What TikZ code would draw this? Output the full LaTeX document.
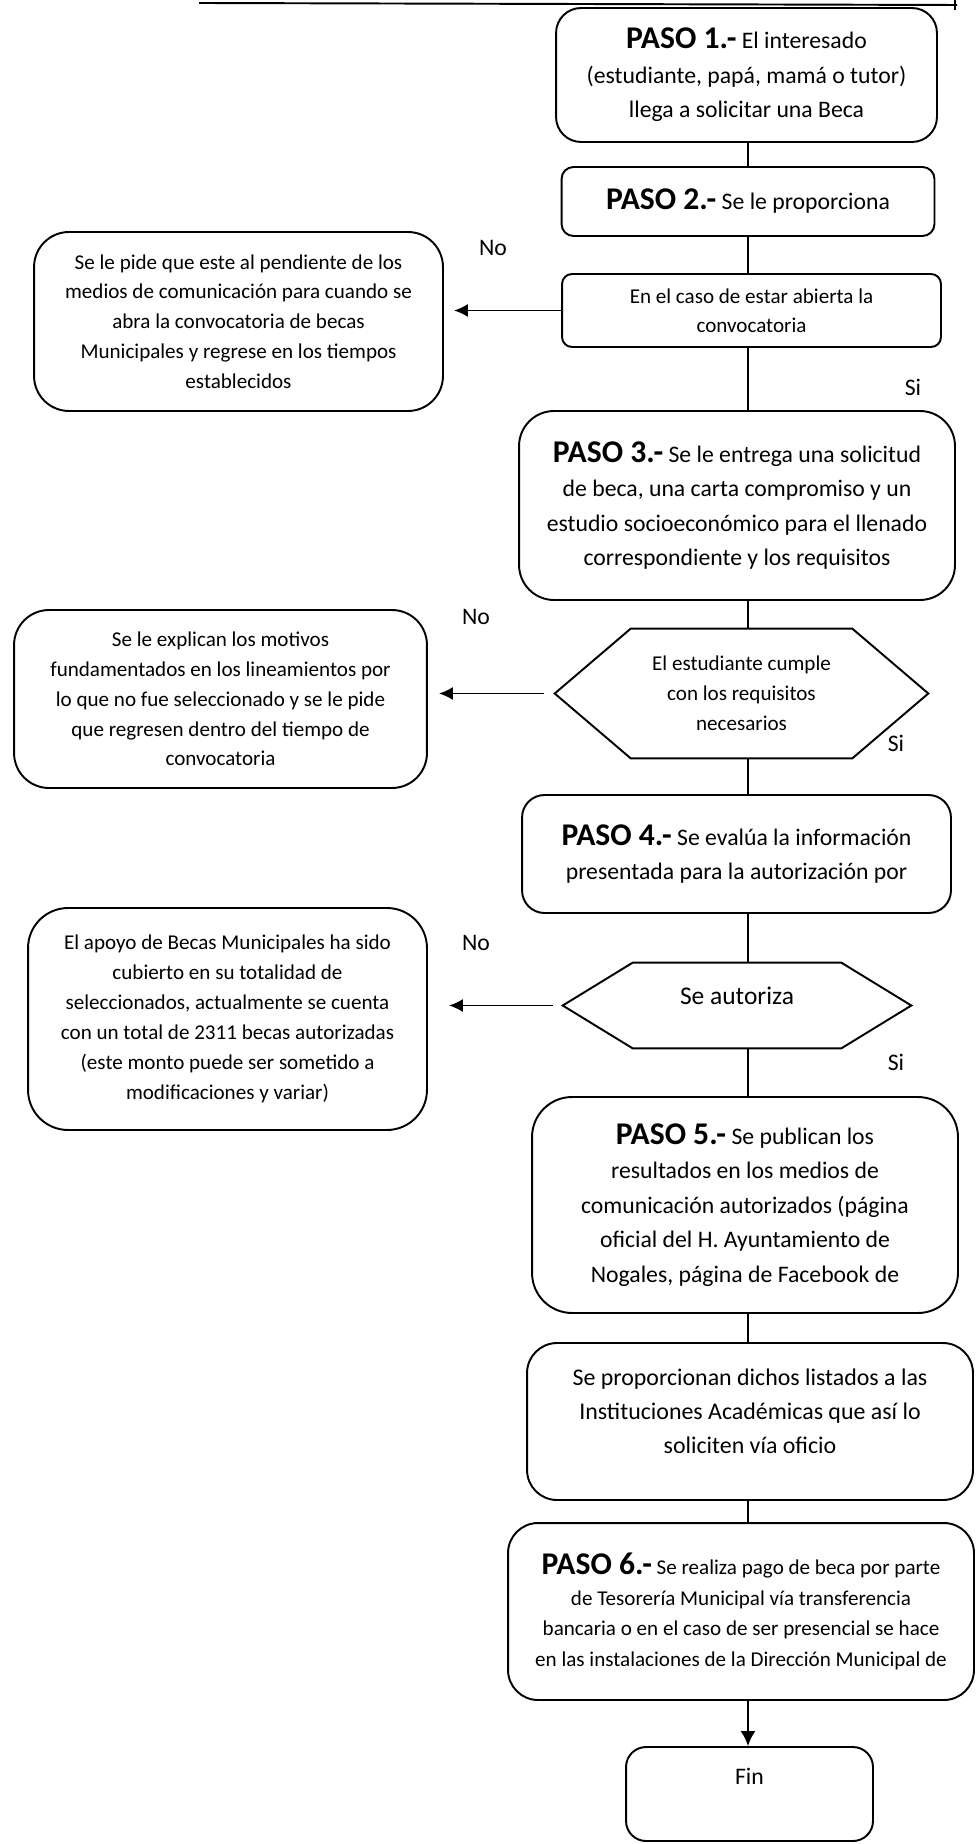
\documentclass[tikz,border=0pt]{standalone}
\usepackage{fontspec}
\setmainfont{Carlito}
\usetikzlibrary{arrows.meta}
\newcommand{\Paso}[1]{{\fontsize{18}{20}\selectfont\bfseries PASO #1.-}}

\begin{document}
\begin{tikzpicture}[
  x=0.02cm, y=-0.02cm,
  stepbox/.style={draw, line width=1.1pt, align=center, inner sep=2pt, font=\fontsize{13.5}{19.7}\selectfont},
  sidebox/.style={draw, line width=1.1pt, align=center, inner sep=2pt, rounded corners=0.7cm, font=\fontsize{12}{17}\selectfont},
  choice/.style={align=center, inner sep=0pt, font=\fontsize{12}{17}\selectfont},
  tag/.style={font=\fontsize{13.5}{15}\selectfont},
  link/.style={line width=0.9pt},
  arrow/.style={->, line width=1.1pt, >={Latex[length=8pt,width=7.5pt]}}
]
\useasboundingbox (0,0) rectangle (975,1844);

% Edge of the frame above
\draw[line width=1.1pt] (199,3) -- (957,5);
\draw[line width=0.8pt] (955,0) -- (955,10);
\coordinate (spine) at (748,0);

% Main column
\node[stepbox, rounded corners=0.5cm, minimum width=7.62cm, minimum height=2.68cm] (paso1) at (746.5,75)
  {\Paso{1} El interesado\\(estudiante, papá, mamá o tutor)\\llega a solicitar una Beca};
\node[stepbox, rounded corners=0.24cm, minimum width=7.46cm, minimum height=1.38cm] (paso2) at (748,201.5)
  {\Paso{2} Se le proporciona};
\node[stepbox, rounded corners=0.2cm, minimum width=7.58cm, minimum height=1.46cm, font=\fontsize{12}{16.5}\selectfont] (abierta) at (751.5,310.5)
  {En el caso de estar abierta la\\convocatoria};
\node[stepbox, rounded corners=0.7cm, minimum width=8.72cm, minimum height=3.78cm] (paso3) at (737,505.5)
  {\Paso{3} Se le entrega una solicitud\\de beca, una carta compromiso y un\\estudio socioeconómico para el llenado\\correspondiente y los requisitos};
\node[choice, minimum width=7.46cm, minimum height=2.58cm] (cumple) at (741.5,693.5)
  {El estudiante cumple\\con los requisitos\\necesarios};
\draw[line width=1.1pt] (cumple.west) -- ([xshift=1.52cm]cumple.north west) -- ([xshift=-1.52cm]cumple.north east)
  -- (cumple.east) -- ([xshift=-1.52cm]cumple.south east) -- ([xshift=1.52cm]cumple.south west) -- cycle;
\node[stepbox, rounded corners=0.45cm, minimum width=8.58cm, minimum height=2.36cm] (paso4) at (736.5,854)
  {\Paso{4} Se evalúa la información\\presentada para la autorización por};
\node[choice, minimum width=6.96cm, minimum height=1.7cm, font=\fontsize{14.5}{17}\selectfont] (autoriza) at (737,1005.5)
  {Se autoriza\\[-6pt]\mbox{}};
\draw[line width=1.1pt] (autoriza.west) -- ([xshift=1.4cm]autoriza.north west) -- ([xshift=-1.4cm]autoriza.north east)
  -- (autoriza.east) -- ([xshift=-1.4cm]autoriza.south east) -- ([xshift=1.4cm]autoriza.south west) -- cycle;
\node[stepbox, rounded corners=0.8cm, minimum width=8.52cm, minimum height=4.32cm] (paso5) at (745,1205)
  {\Paso{5} Se publican los\\resultados en los medios de\\comunicación autorizados (página\\oficial del H. Ayuntamiento de\\Nogales, página de Facebook de};
\node[stepbox, rounded corners=0.6cm, minimum width=8.92cm, minimum height=3.14cm, font=\fontsize{13.6}{19.5}\selectfont] (listados) at (750,1421.5)
  {Se proporcionan dichos listados a las\\Instituciones Académicas que así lo\\soliciten vía oficio\\[-8pt]\mbox{}};
\node[stepbox, rounded corners=0.6cm, minimum width=9.32cm, minimum height=3.54cm, font=\fontsize{12}{17.5}\selectfont] (paso6) at (741,1611.5)
  {\Paso{6} Se realiza pago de beca por parte\\de Tesorería Municipal vía transferencia\\bancaria o en el caso de ser presencial se hace\\en las instalaciones de la Dirección Municipal de};
\node[stepbox, rounded corners=0.4cm, minimum width=4.94cm, minimum height=1.88cm] (fin) at (749.5,1794)
  {Fin\\\mbox{}};

% Left column: answers for No
\node[sidebox, minimum width=8.18cm, minimum height=3.58cm] (pendiente) at (238.5,321.5)
  {Se le pide que este al pendiente de los\\medios de comunicación para cuando se\\abra la convocatoria de becas\\Municipales y regrese en los tiempos\\establecidos};
\node[sidebox, minimum width=8.26cm, minimum height=3.56cm] (motivos) at (220.5,699)
  {Se le explican los motivos\\fundamentados en los lineamientos por\\lo que no fue seleccionado y se le pide\\que regresen dentro del tiempo de\\convocatoria};
\node[sidebox, rounded corners=0.8cm, minimum width=7.98cm, minimum height=4.44cm] (apoyo) at (227.5,1019)
  {El apoyo de Becas Municipales ha sido\\cubierto en su totalidad de\\seleccionados, actualmente se cuenta\\con un total de 2311 becas autorizadas\\(este monto puede ser sometido a\\modificaciones y variar)};

% Answer tags
\node[tag] (no1) at (493,248) {No};
\node[tag] (si1) at (913,387) {Si};
\node[tag] (no2) at (476,617) {No};
\node[tag] (si2) at (896,743) {Si};
\node[tag] (no3) at (476,943) {No};
\node[tag] (si3) at (896,1062) {Si};

% Connectors down the main column
\draw[link] (paso1.south -| spine) -- (paso2.north -| spine);
\draw[link] (paso2.south -| spine) -- (abierta.north -| spine);
\draw[link] (abierta.south -| spine) -- (paso3.north -| spine);
\draw[link] (paso3.south -| spine) -- (cumple.north -| spine);
\draw[link] (cumple.south -| spine) -- (paso4.north -| spine);
\draw[link] (paso4.south -| spine) -- (autoriza.north -| spine);
\draw[link] (autoriza.south -| spine) -- (paso5.north -| spine);
\draw[link] (paso5.south -| spine) -- (listados.north -| spine);
\draw[link] (listados.south -| spine) -- (paso6.north -| spine);
\draw[arrow, >={Latex[length=8.5pt,width=8.5pt]}] (paso6.south -| spine) -- (fin.north -| spine);

% No arrows
\draw[arrow, shorten >=0.2cm] (abierta.west) -- (abierta.west -| pendiente.east);
\draw[arrow, shorten >=0.22cm] ([xshift=-0.22cm]cumple.west) -- (cumple.west -| motivos.east);
\draw[arrow, shorten >=0.42cm] ([xshift=-0.2cm]autoriza.west) -- (autoriza.west -| apoyo.east);
\end{tikzpicture}
\end{document}
